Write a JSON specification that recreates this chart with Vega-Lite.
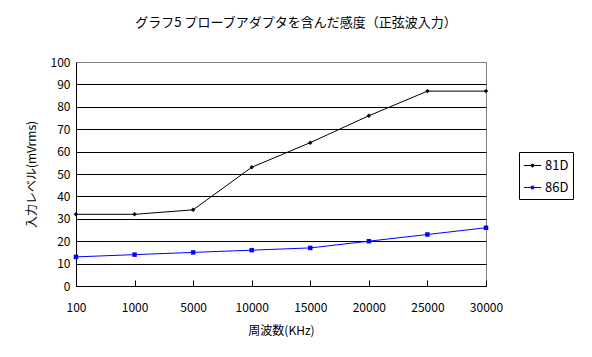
{
  "$schema": "https://vega.github.io/schema/vega-lite/v6.json",
  "width": 410,
  "height": 224,
  "autosize": "none",
  "padding": {"left": 76, "top": 62, "right": 106, "bottom": 71},
  "background": "white",
  "title": {
    "text": "グラフ5 プローブアダプタを含んだ感度（正弦波入力）",
    "font": "Noto Sans CJK JP",
    "fontSize": 13,
    "fontWeight": "normal",
    "color": "black",
    "anchor": "middle",
    "dx": 15,
    "offset": 26
  },
  "config": {
    "font": "Noto Sans CJK JP",
    "view": {"stroke": "#808080", "strokeWidth": 1},
    "axis": {
      "labelFont": "Noto Sans CJK JP",
      "titleFont": "Noto Sans CJK JP",
      "labelFontSize": 12,
      "titleFontSize": 12,
      "titleFontWeight": "normal",
      "labelColor": "black",
      "titleColor": "black",
      "domainColor": "black",
      "tickColor": "black"
    }
  },
  "data": {
    "values": [
      {"freq": "100", "series": "81D", "v": 32},
      {"freq": "1000", "series": "81D", "v": 32},
      {"freq": "5000", "series": "81D", "v": 34},
      {"freq": "10000", "series": "81D", "v": 53},
      {"freq": "15000", "series": "81D", "v": 64},
      {"freq": "20000", "series": "81D", "v": 76},
      {"freq": "25000", "series": "81D", "v": 87},
      {"freq": "30000", "series": "81D", "v": 87},
      {"freq": "100", "series": "86D", "v": 13},
      {"freq": "1000", "series": "86D", "v": 14},
      {"freq": "5000", "series": "86D", "v": 15},
      {"freq": "10000", "series": "86D", "v": 16},
      {"freq": "15000", "series": "86D", "v": 17},
      {"freq": "20000", "series": "86D", "v": 20},
      {"freq": "25000", "series": "86D", "v": 23},
      {"freq": "30000", "series": "86D", "v": 26}
    ]
  },
  "encoding": {
    "x": {
      "field": "freq",
      "type": "ordinal",
      "sort": null,
      "scale": {"type": "point", "padding": 0},
      "axis": {
        "title": "周波数(KHz)",
        "labelAngle": 0,
        "tickSize": -6,
        "labelPadding": 22,
        "titlePadding": 12,
        "grid": false
      }
    },
    "y": {
      "field": "v",
      "type": "quantitative",
      "scale": {"domain": [0, 100], "nice": false},
      "axis": {
        "title": "入力レベル(mVrms)",
        "values": [0, 10, 20, 30, 40, 50, 60, 70, 80, 90, 100],
        "ticks": false,
        "labelPadding": 6,
        "titlePadding": 12,
        "grid": true,
        "gridColor": {"condition": {"test": "datum.value == 100", "value": "#808080"}, "value": "black"},
        "gridOpacity": 1
      }
    }
  },
  "layer": [
    {
      "mark": {"type": "line", "strokeWidth": 1},
      "encoding": {
        "color": {
          "field": "series",
          "type": "nominal",
          "scale": {"domain": ["81D", "86D"], "range": ["black", "#0000FF"]},
          "legend": {
            "title": null,
            "orient": "none",
            "legendX": 443,
            "legendY": 90,
            "strokeColor": "black",
            "fillColor": "white",
            "padding": 4,
            "labelFontSize": 13,
            "labelFont": "Noto Sans CJK JP",
            "labelColor": "black",
            "labelOffset": 3,
            "symbolSize": 300,
            "symbolStrokeWidth": 1,
            "rowPadding": 5,
            "encode": {
              "symbols": {
                "update": {
                  "shape": {"signal": "datum.value == '81D' ? 'M-1,0H1M0,-0.2L0.2,0L0,0.2L-0.2,0Z' : 'M-1,0H1M-0.15,-0.15H0.15V0.15H-0.15Z'"},
                  "fill": {"signal": "datum.value == '81D' ? 'black' : '#0000FF'"},
                  "stroke": {"signal": "datum.value == '81D' ? 'black' : '#0000FF'"}
                }
              }
            }
          }
        }
      }
    },
    {
      "mark": {"type": "point", "filled": true, "size": 20, "opacity": 1},
      "encoding": {
        "shape": {
          "condition": {"test": "datum.series == '81D'", "value": "diamond"},
          "value": "square"
        },
        "color": {
          "field": "series",
          "type": "nominal",
          "legend": null
        }
      }
    }
  ]
}
